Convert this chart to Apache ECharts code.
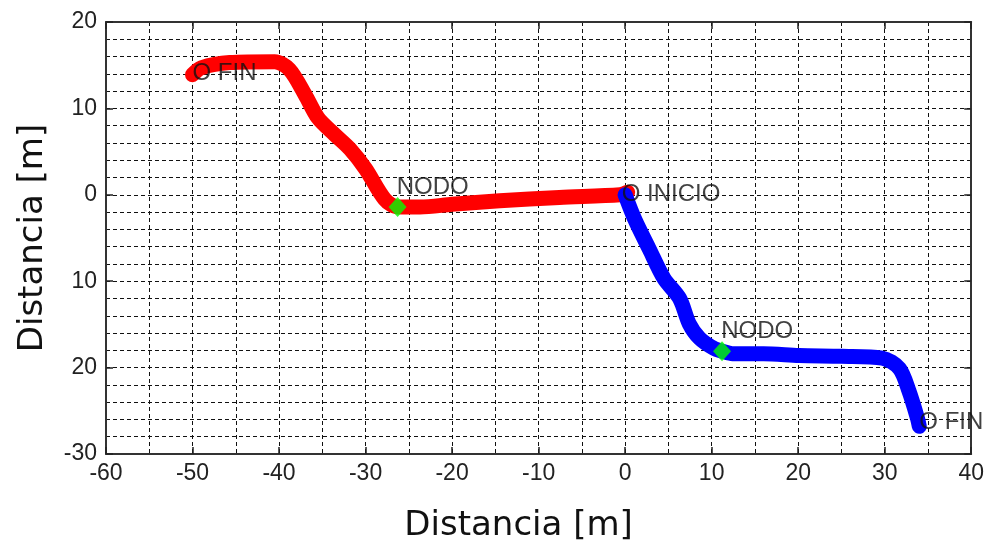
<!DOCTYPE html>
<html>
<head>
<meta charset="utf-8">
<script src="https://cdn.jsdelivr.net/npm/echarts@6/dist/echarts.min.js"></script>
<style>html,body{margin:0;padding:0;background:#fff;}#c{width:987px;height:548px;}</style>
</head>
<body>
<div id="c"></div>
<script>
// Path from start to the left (red)
var redX = [0.3, -0.6, -7.6, -14.5, -20, -23.7, -26.3, -27.8, -30, -31.8, -33.6, -35.5, -37, -38.8, -40.5, -45.7, -49, -50];
var redY = [0.3, 0.0, -0.3, -0.7, -1.1, -1.4, -1.4, -0.5, 3.0, 5.3, 7.0, 8.9, 11.6, 14.5, 15.4, 15.3, 14.7, 13.9];
// Path from start to the right (blue)
var blueX = [0, 1.1, 2.8, 4.5, 6.3, 7.4, 8.6, 10.3, 11.2, 12.4, 16, 20.1, 25, 29.7, 31.7, 32.8, 33.8, 34];
var blueY = [0, -2.8, -6.3, -9.7, -12.0, -14.9, -16.6, -17.8, -18.1, -18.4, -18.4, -18.6, -18.7, -18.9, -20.1, -22.7, -25.9, -26.8];
// Node markers
var nodeX = [-26.3, 11.2];
var nodeY = [-1.4, -18.1];
// Text annotations
var textLabels = ['O FIN', 'NODO', 'O INICIO', 'NODO', 'O FIN'];
var textX = [-50, -26.4, -0.4, 11.1, 34];
var textY = [14, 0.9, 0, -15.8, -26.3];
// Axis tick labels
var xTickValues = [-60, -50, -40, -30, -20, -10, 0, 10, 20, 30, 40];
var xTickLabels = ['-60', '-50', '-40', '-30', '-20', '-10', '0', '10', '20', '30', '40'];
var yTickValues = [20, 10, 0, -10, -20, -30];
var yTickLabels = ['20', '10', '0', '10', '20', '-30'];

function zip(a, b) { return a.map(function (v, i) { return [v, b[i]]; }); }
function lookup(vals, labs, v) {
  for (var i = 0; i < vals.length; i++) if (Math.abs(vals[i] - v) < 1e-6) return labs[i];
  return '';
}

var dash = { color: '#111', width: 1, type: [4, 3] };
var axisLine = { show: true, onZero: false, lineStyle: { color: '#333', width: 2 } };
var tick = { show: true, inside: true, length: 7, lineStyle: { color: '#222', width: 1.5 } };
var labelFont = { color: '#222', fontSize: 23, fontFamily: 'Liberation Sans, Arial, sans-serif' };

var chart = echarts.init(document.getElementById('c'), null, { renderer: 'canvas' });
chart.setOption({
  animation: false,
  backgroundColor: '#fff',
  grid: { left: 106, top: 22, width: 866, height: 434, containLabel: false },
  xAxis: [{
    type: 'value', min: -60, max: 40, interval: 10, position: 'bottom',
    name: 'Distancia [m]', nameLocation: 'middle', nameGap: 55,
    nameTextStyle: { color: '#111', fontSize: 34, fontFamily: 'DejaVu Sans, sans-serif', padding: [0, 40, 0, 0] },
    axisLine: axisLine, axisTick: tick,
    axisLabel: Object.assign({ margin: 8, formatter: function (v) { return lookup(xTickValues, xTickLabels, v); } }, labelFont),
    splitLine: { show: true, lineStyle: dash },
    minorTick: { show: false, splitNumber: 2 },
    minorSplitLine: { show: true, lineStyle: dash }
  }, {
    type: 'value', min: -60, max: 40, interval: 10, position: 'top',
    axisLine: axisLine, axisTick: tick, axisLabel: { show: false }, splitLine: { show: false }
  }],
  yAxis: [{
    type: 'value', min: -30, max: 20, interval: 10, position: 'left',
    name: 'Distancia [m]', nameLocation: 'middle', nameGap: 56, nameRotate: 90,
    nameTextStyle: { color: '#111', fontSize: 34, fontFamily: 'DejaVu Sans, sans-serif' },
    axisLine: axisLine, axisTick: tick,
    axisLabel: Object.assign({ margin: 9, formatter: function (v) { return lookup(yTickValues, yTickLabels, v); } }, labelFont),
    splitLine: { show: true, lineStyle: dash },
    minorTick: { show: false, splitNumber: 5 },
    minorSplitLine: { show: true, lineStyle: dash }
  }, {
    type: 'value', min: -30, max: 20, interval: 10, position: 'right',
    axisLine: axisLine, axisTick: tick, axisLabel: { show: false }, splitLine: { show: false }
  }],
  series: [{
    type: 'line', data: zip(redX, redY), showSymbol: false, smooth: 0.3,
    lineStyle: { color: '#ff0000', width: 15, cap: 'round', join: 'round' }, z: 3
  }, {
    type: 'line', data: zip(blueX, blueY), showSymbol: false, smooth: 0.3,
    lineStyle: { color: '#0000ff', width: 15, cap: 'round', join: 'round' }, z: 3
  }, {
    type: 'scatter', data: zip(nodeX, nodeY), symbol: 'diamond', symbolSize: [18, 20],
    itemStyle: { color: '#00ff00' }, z: 5
  }, {
    type: 'scatter', symbolSize: 0, z: 10,
    data: textX.map(function (x, i) { return { value: [x, textY[i]], name: textLabels[i] }; }),
    label: {
      show: true, position: 'right', distance: 0, formatter: '{b}',
      color: '#111', fontSize: 24, fontFamily: 'Liberation Sans, Arial, sans-serif'
    },
    labelLayout: { hideOverlap: false }
  }]
});
</script>
</body>
</html>
